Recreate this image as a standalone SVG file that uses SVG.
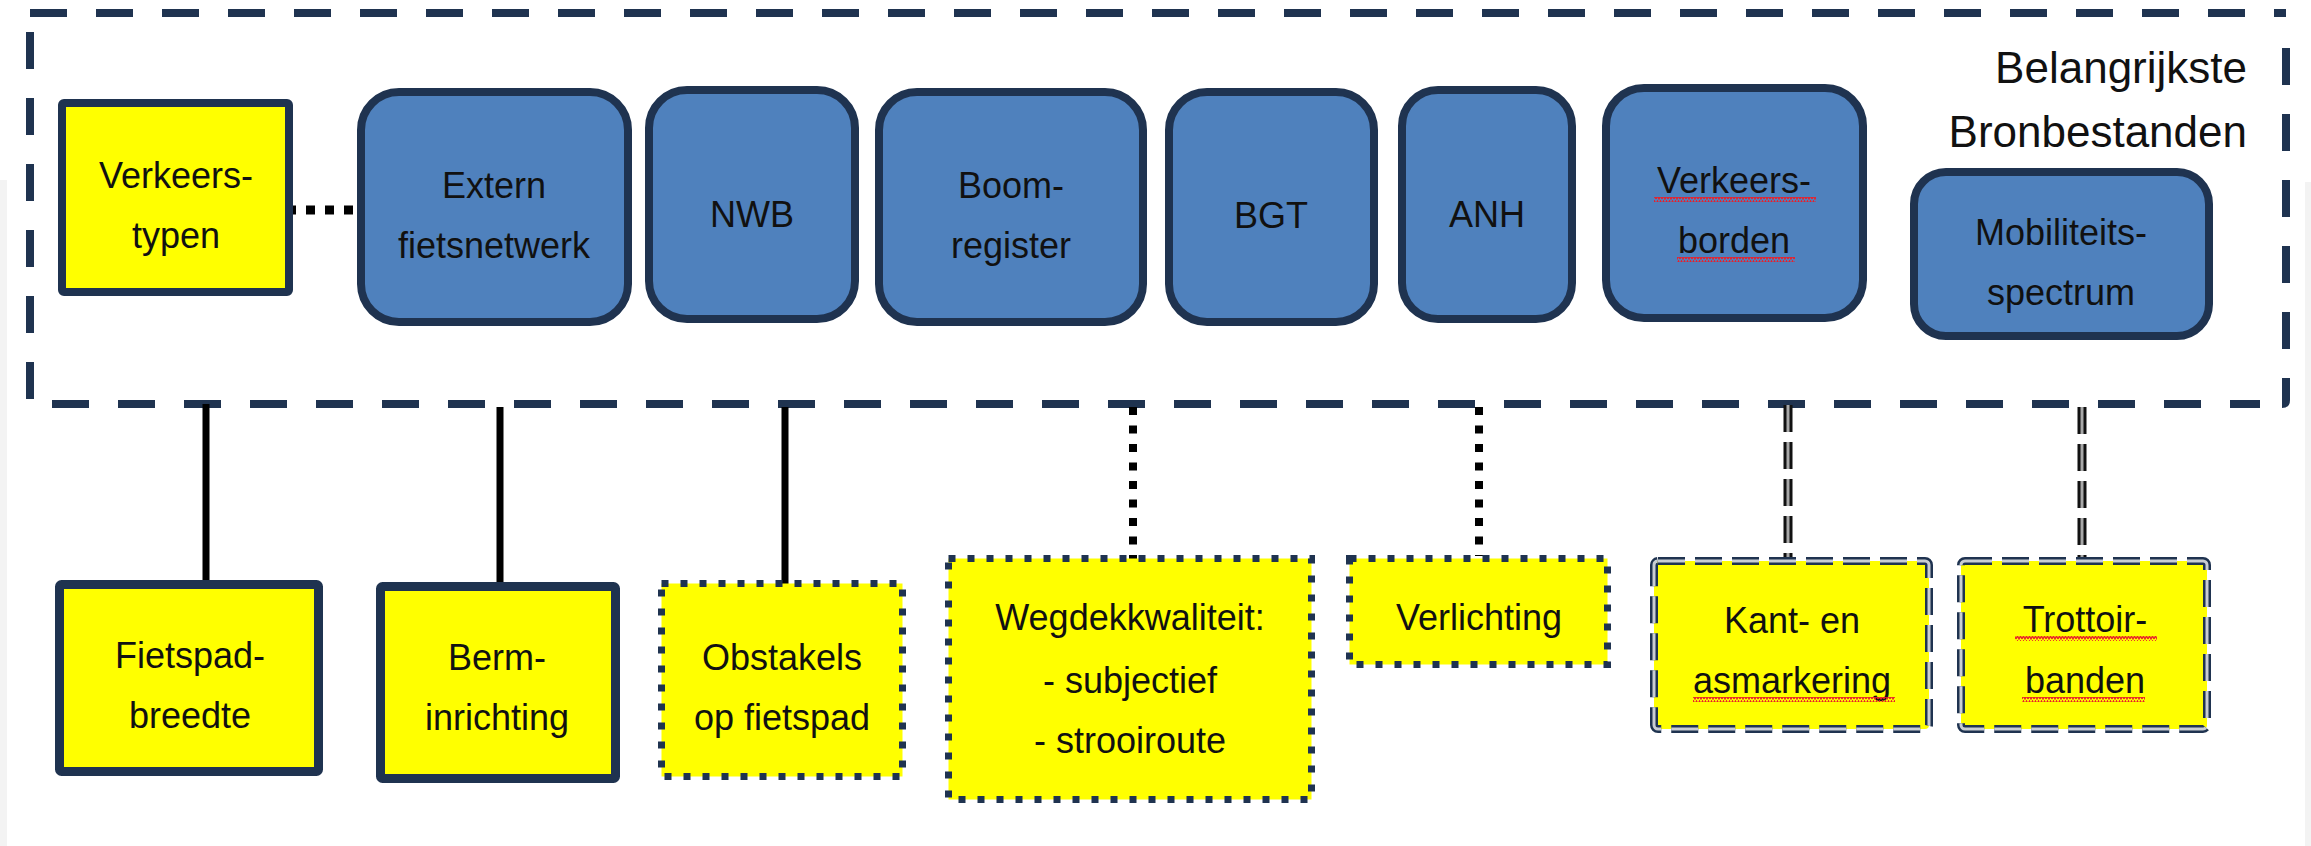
<svg xmlns="http://www.w3.org/2000/svg" width="2311" height="846" viewBox="0 0 2311 846">
<defs>
<style>
text{font-family:"Liberation Sans",Arial,sans-serif;font-size:36px;fill:#111;text-anchor:middle}
.title{font-size:44px;text-anchor:end}
.blue{fill:#4F81BD;stroke:#1F3350;stroke-width:8}
.ysolid{fill:#FFFF00;stroke:#1F3350;stroke-width:9}
.ydot{fill:#FFFF00;stroke:#1F3350;stroke-width:7;stroke-dasharray:7 12}
.ydash{fill:#FFFF00;stroke:#1F3350;stroke-width:8;stroke-dasharray:27 10}
.ydash2{fill:none;stroke:#C9CDD2;stroke-width:3;stroke-dasharray:27 10}
.frame{fill:none;stroke:#1F3350;stroke-width:8;stroke-dasharray:37 29}
.solid{stroke:#000;stroke-width:7;fill:none}
.dot{stroke:#000;stroke-width:8;fill:none;stroke-dasharray:8 10.5}
.dd1{stroke:#111;stroke-width:9;fill:none;stroke-dasharray:27 10}
.dd2{stroke:#A9A9A9;stroke-width:3;fill:none;stroke-dasharray:27 10}
.sq{fill:url(#squig)}
</style>
<pattern id="squig" width="6" height="5" patternUnits="userSpaceOnUse">
<polyline points="0,4 1.5,1 3,4 4.5,1 6,4" fill="none" stroke="#E8202A" stroke-width="1.3"/>
</pattern>
</defs>
<rect x="0" y="0" width="2311" height="846" fill="#FFFFFF"/>
<rect x="0" y="180" width="7" height="666" fill="#F3F3F3"/>
<rect x="2305" y="182" width="6" height="664" fill="#F3F3F3"/>

<g id="frame">
<path class="frame" d="M30 13 H2286"/>
<path class="frame" d="M2286 48 V400 Q2286 404 2282 404"/>
<path class="frame" d="M30 32 V404"/>
<path class="frame" d="M52 404 H2260"/>
<text class="title" x="2247" y="83">Belangrijkste</text>
<text class="title" x="2247" y="147">Bronbestanden</text>
</g>

<g id="connectors">
<line class="dot" x1="287" y1="210" x2="356" y2="210" style="stroke-width:9;stroke-dasharray:9 10"/>
<line class="solid" x1="206" y1="404" x2="206" y2="582"/>
<line class="solid" x1="500" y1="407" x2="500" y2="585"/>
<line class="solid" x1="785" y1="407" x2="785" y2="585"/>
<line class="dot" x1="1133" y1="407" x2="1133" y2="560"/>
<line class="dot" x1="1479" y1="407" x2="1479" y2="556"/>
<line class="dd1" x1="1788" y1="405" x2="1788" y2="560"/>
<line class="dd2" x1="1788" y1="405" x2="1788" y2="560"/>
<line class="dd1" x1="2082" y1="407" x2="2082" y2="560"/>
<line class="dd2" x1="2082" y1="407" x2="2082" y2="560"/>
</g>

<g id="verkeerstypen">
<rect x="62" y="103" width="227" height="189" rx="2" fill="#FFFF00" stroke="#1F3350" stroke-width="8"/>
<text x="176" y="188">Verkeers-</text>
<text x="176" y="248">typen</text>
</g>

<g id="extern">
<rect class="blue" x="361" y="92" width="267" height="230" rx="38"/>
<text x="494" y="198">Extern</text>
<text x="494" y="258">fietsnetwerk</text>
</g>

<g id="nwb">
<rect class="blue" x="649" y="90" width="206" height="229" rx="38"/>
<text x="752" y="227">NWB</text>
</g>

<g id="boomregister">
<rect class="blue" x="879" y="92" width="264" height="230" rx="38"/>
<text x="1011" y="198">Boom-</text>
<text x="1011" y="258">register</text>
</g>

<g id="bgt">
<rect class="blue" x="1169" y="92" width="205" height="230" rx="38"/>
<text x="1271" y="228">BGT</text>
</g>

<g id="anh">
<rect class="blue" x="1402" y="90" width="170" height="229" rx="36"/>
<text x="1487" y="227">ANH</text>
</g>

<g id="verkeersborden">
<rect class="blue" x="1606" y="88" width="257" height="230" rx="38"/>
<text x="1734" y="193">Verkeers-</text>
<text x="1734" y="253">borden</text>
<rect class="sq" x="1654" y="197" width="162" height="5"/>
<rect class="sq" x="1677" y="257" width="118" height="5"/>
</g>

<g id="mobiliteitsspectrum">
<rect class="blue" x="1914" y="172" width="295" height="164" rx="32"/>
<text x="2061" y="245">Mobiliteits-</text>
<text x="2061" y="305">spectrum</text>
</g>

<g id="fietspadbreedte">
<rect class="ysolid" x="59.5" y="584.5" width="259" height="187" rx="2"/>
<text x="190" y="668">Fietspad-</text>
<text x="190" y="728">breedte</text>
</g>

<g id="berminrichting">
<rect class="ysolid" x="380.5" y="586.5" width="235" height="192" rx="2"/>
<text x="497" y="670">Berm-</text>
<text x="497" y="730">inrichting</text>
</g>

<g id="obstakels">
<rect class="ydot" x="661.5" y="583.5" width="241" height="193"/>
<text x="782" y="670">Obstakels</text>
<text x="782" y="730">op fietspad</text>
</g>

<g id="wegdekkwaliteit">
<rect class="ydot" x="948.5" y="558.5" width="363" height="241"/>
<text x="1130" y="630">Wegdekkwaliteit:</text>
<text x="1130" y="693">- subjectief</text>
<text x="1130" y="753">- strooiroute</text>
</g>

<g id="verlichting">
<rect class="ydot" x="1349.5" y="558.5" width="258" height="106"/>
<text x="1479" y="630">Verlichting</text>
</g>

<g id="kantasmarkering">
<rect class="ydash" x="1654" y="561" width="275" height="168" rx="4"/>
<rect class="ydash2" x="1654" y="561" width="275" height="168" rx="4"/>
<text x="1792" y="633">Kant- en</text>
<text x="1792" y="693">asmarkering</text>
<rect class="sq" x="1693" y="697" width="202" height="5"/>
</g>

<g id="trottoirbanden">
<rect class="ydash" x="1961" y="561" width="246" height="168" rx="4"/>
<rect class="ydash2" x="1961" y="561" width="246" height="168" rx="4"/>
<text x="2085" y="632">Trottoir-</text>
<text x="2085" y="693">banden</text>
<rect class="sq" x="2015" y="636" width="142" height="5"/>
<rect class="sq" x="2022" y="697" width="123" height="5"/>
</g>
</svg>
